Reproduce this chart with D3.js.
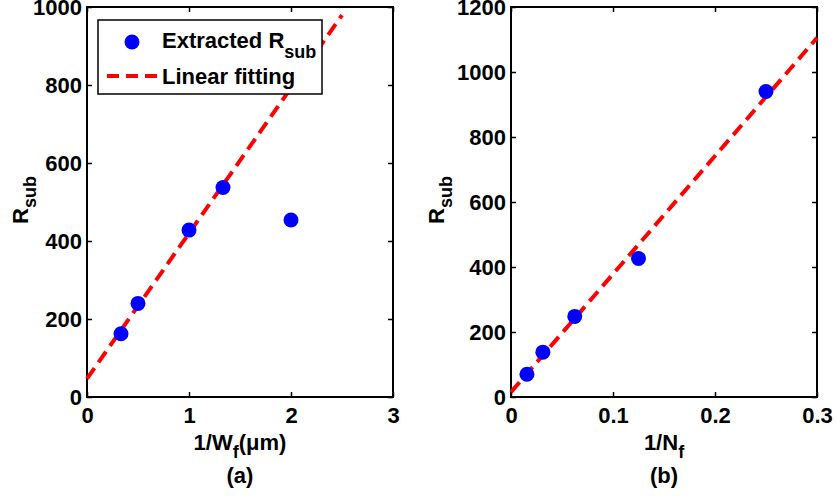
<!DOCTYPE html>
<html>
<head>
<meta charset="utf-8">
<script src="https://cdn.jsdelivr.net/npm/d3@7"></script>
<style>
  body { margin: 0; background: #fff; }
  text { font-family: "Liberation Sans", Arial, sans-serif; font-weight: bold; }
</style>
</head>
<body>
<div id="chart"></div>
<script>
// panel (a): R_sub vs 1/Wf
const wfInv = [1 / 3, 0.5, 1, 4 / 3, 2];
const rsubA = [162, 240, 428, 537, 454];
const fitAx = [0, 2.5];
const fitAy = [47, 979];
const xTicksA = [0, 1, 2, 3];
const yTicksA = [0, 200, 400, 600, 800, 1000];

// panel (b): R_sub vs 1/Nf
const nfInv = [1 / 64, 1 / 32, 1 / 16, 1 / 8, 1 / 4];
const rsubB = [70, 138, 248, 426, 940];
const fitBx = [0, 0.3];
const fitBy = [15, 1105];
const xTicksB = [0, 0.1, 0.2, 0.3];
const yTicksB = [0, 200, 400, 600, 800, 1000, 1200];

const width = 836;
const height = 499;
const fs = 22;
const subFs = 18;

const svg = d3
  .select("#chart")
  .append("svg")
  .attr("width", width)
  .attr("height", height)
  .attr("viewBox", [0, 0, width, height]);

function panel(opt) {
  const x = d3.scaleLinear().domain(opt.xDomain).range([opt.left, opt.right]);
  const y = d3.scaleLinear().domain(opt.yDomain).range([397, 7]);
  const g = svg.append("g");

  // bottom axis with labels
  g.append("g")
    .attr("transform", `translate(0,${y.range()[0]})`)
    .call(d3.axisBottom(x).tickValues(opt.xTicks).tickFormat(opt.xFmt)
      .tickSizeInner(-5).tickSizeOuter(0).tickPadding(10))
    .call((a) => a.select(".domain").remove())
    .call((a) => a.selectAll("text").attr("font-size", fs).attr("font-family", null));
  // top mirror ticks
  g.append("g")
    .attr("transform", `translate(0,${y.range()[1]})`)
    .call(d3.axisTop(x).tickValues(opt.xTicks).tickFormat("")
      .tickSizeInner(-5).tickSizeOuter(0))
    .call((a) => a.select(".domain").remove());
  // left axis
  g.append("g")
    .attr("transform", `translate(${opt.left},0)`)
    .call(d3.axisLeft(y).tickValues(opt.yTicks).tickFormat(d3.format("d"))
      .tickSizeInner(-5).tickSizeOuter(0).tickPadding(5))
    .call((a) => a.select(".domain").remove())
    .call((a) => a.selectAll("text").attr("font-size", fs).attr("font-family", null));
  // right mirror ticks
  g.append("g")
    .attr("transform", `translate(${opt.right},0)`)
    .call(d3.axisRight(y).tickValues(opt.yTicks).tickFormat("")
      .tickSizeInner(-5).tickSizeOuter(0))
    .call((a) => a.select(".domain").remove());
  g.selectAll(".tick line").attr("stroke-width", 1.5);

  // frame
  g.append("rect")
    .attr("x", opt.left)
    .attr("y", y.range()[1])
    .attr("width", opt.right - opt.left)
    .attr("height", y.range()[0] - y.range()[1])
    .attr("fill", "none")
    .attr("stroke", "#000")
    .attr("stroke-width", 2);

  // fitted line
  const line = d3.line().x((d) => x(d[0])).y((d) => y(d[1]));
  g.append("path")
    .attr("d", line(d3.zip(opt.fitX, opt.fitY)))
    .attr("fill", "none")
    .attr("stroke", "#ff0000")
    .attr("stroke-width", 4)
    .attr("stroke-dasharray", "13,7");

  // points
  g.selectAll("circle.pt")
    .data(d3.zip(opt.px, opt.py))
    .join("circle")
    .attr("class", "pt")
    .attr("cx", (d) => x(d[0]))
    .attr("cy", (d) => y(d[1]))
    .attr("r", 7.5)
    .attr("fill", "#0000ff");

  // y label
  const yl = g.append("text")
    .attr("transform", `translate(${opt.yLabelX},200) rotate(-90)`)
    .attr("text-anchor", "middle")
    .attr("font-size", fs);
  yl.append("tspan").text("R");
  yl.append("tspan").attr("font-size", subFs).attr("dy", 8).text("sub");

  // x label
  const xl = g.append("text")
    .attr("x", (opt.left + opt.right) / 2)
    .attr("y", 450)
    .attr("text-anchor", "middle")
    .attr("font-size", fs);
  xl.append("tspan").text(opt.xLabel[0]);
  xl.append("tspan").attr("font-size", subFs).attr("dy", 8).text(opt.xLabel[1]);
  xl.append("tspan").attr("dy", -8).text(opt.xLabel[2]);

  g.append("text")
    .attr("x", (opt.left + opt.right) / 2)
    .attr("y", 483)
    .attr("text-anchor", "middle")
    .attr("font-size", fs)
    .text(opt.caption);

  return { x, y, g };
}

panel({
  left: 87, right: 393,
  xDomain: [0, 3], yDomain: [0, 1000],
  xTicks: xTicksA, yTicks: yTicksA, xFmt: d3.format("d"),
  fitX: fitAx, fitY: fitAy, px: wfInv, py: rsubA,
  yLabelX: 28, xLabel: ["1/W", "f", "(\u03bcm)"], caption: "(a)",
});

panel({
  left: 511, right: 817,
  xDomain: [0, 0.3], yDomain: [0, 1200],
  xTicks: xTicksB, yTicks: yTicksB, xFmt: (d) => (d === 0 ? "0" : d3.format(".1f")(d)),
  fitX: fitBx, fitY: fitBy, px: nfInv, py: rsubB,
  yLabelX: 444, xLabel: ["1/N", "f", ""], caption: "(b)",
});

// legend for panel (a)
const lg = svg.append("g");
lg.append("rect")
  .attr("x", 98).attr("y", 20)
  .attr("width", 224).attr("height", 74)
  .attr("fill", "#fff")
  .attr("stroke", "#000")
  .attr("stroke-width", 1.5);
lg.append("circle")
  .attr("cx", 132).attr("cy", 42).attr("r", 7.5)
  .attr("fill", "#0000ff");
lg.append("line")
  .attr("x1", 107).attr("x2", 157)
  .attr("y1", 76).attr("y2", 76)
  .attr("stroke", "#ff0000")
  .attr("stroke-width", 4)
  .attr("stroke-dasharray", "12,7");
const t1 = lg.append("text")
  .attr("x", 162).attr("y", 48)
  .attr("font-size", fs);
t1.append("tspan").text("Extracted R");
t1.append("tspan").attr("font-size", subFs).attr("dy", 10).text("sub");
lg.append("text")
  .attr("x", 162).attr("y", 84)
  .attr("font-size", fs)
  .text("Linear fitting");
</script>
</body>
</html>
